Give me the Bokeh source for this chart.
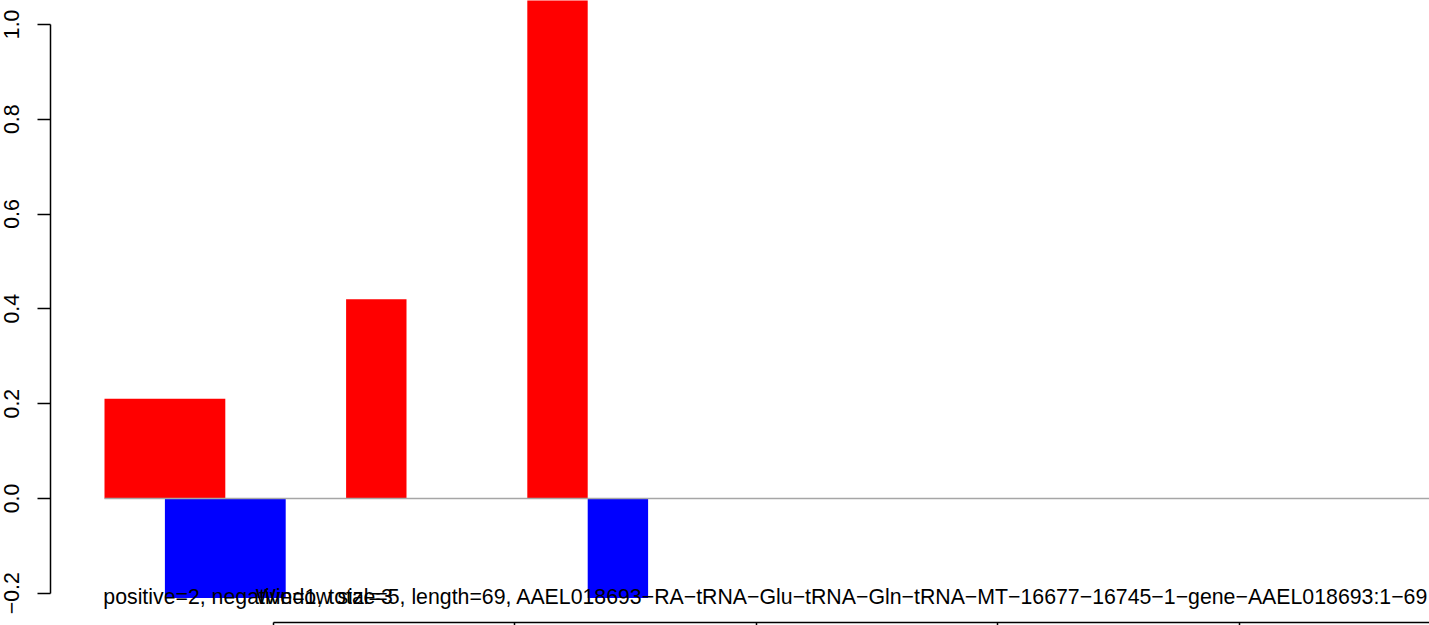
from bokeh.plotting import figure
from bokeh.models import Range1d, LinearAxis, FixedTicker, Label
from bokeh.embed import file_html
from bokeh.resources import INLINE

# ---- data ----
windows = list(range(22))
pos_vals = [0.21, 0.21, 0, 0, 0.42, 0, 0, 1.06, 0, 0, 0,
            0, 0, 0, 0, 0, 0, 0, 0, 0, 0, 0]
neg_vals = [0, -0.21, -0.21, 0, 0, 0, 0, 0, -0.21, 0, 0,
            0, 0, 0, 0, 0, 0, 0, 0, 0, 0, 0]
y_ticks = [-0.2, 0.0, 0.2, 0.4, 0.6, 0.8, 1.0]
y_tick_labels = ["\u22120.2", "0.0", "0.2", "0.4", "0.6", "0.8", "1.0"]
x_ticks = [2.79, 6.79, 10.79, 14.79, 18.79]
info_text = "positive=2, negative=1, total=3"
title_text = ("Window size=5, length=69, AAEL018693\u2212RA\u2212tRNA\u2212Glu\u2212tRNA"
              "\u2212Gln\u2212tRNA\u2212MT\u221216677\u221216745\u22121\u2212gene"
              "\u2212AAEL018693:1\u221269")

FONT = "Liberation Sans"
FS = "21.3px"


def runs(ws, vals):
    """Merge consecutive windows of equal non-zero value into single bars."""
    left, right, top = [], [], []
    i = 0
    while i < len(vals):
        if vals[i] == 0:
            i += 1
            continue
        j = i
        while j + 1 < len(vals) and vals[j + 1] == vals[i]:
            j += 1
        left.append(ws[i])
        right.append(ws[j] + 1)
        top.append(vals[i])
        i = j + 1
    return left, right, top


p = figure(width=1429, height=625, output_backend="svg", toolbar_location=None,
           x_range=Range1d(-1.7219, 21.937), y_range=Range1d(-0.2681, 1.0504),
           x_axis_type=None, y_axis_type=None, min_border=0)
p.outline_line_color = None
p.xgrid.visible = False
p.ygrid.visible = False
p.background_fill_color = "white"
p.border_fill_color = "white"

pl, pr, pt = runs(windows, pos_vals)
nl, nr, nt = runs(windows, neg_vals)
p.quad(left=pl, right=pr, top=pt, bottom=0, fill_color="#FF0000", line_color=None)
p.quad(left=nl, right=nr, top=nt, bottom=0, fill_color="#0000FF", line_color=None)
p.line(x=[windows[0], windows[-1] + 1], y=[0, 0], line_color="#A6A6A6", line_width=1.5)

# y axis
yax = LinearAxis(fixed_location=-0.9023)
yax.ticker = FixedTicker(ticks=y_ticks, minor_ticks=[])
yax.bounds = (y_ticks[0], y_ticks[-1])
yax.major_label_overrides = {t: l for t, l in zip(y_ticks, y_tick_labels)}
yax.major_label_orientation = "vertical"
yax.major_label_text_font = FONT
yax.major_label_text_font_size = FS
yax.major_label_text_color = "black"
yax.major_label_standoff = 18
yax.major_tick_out = 13
yax.major_tick_in = 0
yax.minor_tick_out = 0
yax.minor_tick_in = 0
yax.axis_line_width = 1.5
yax.major_tick_line_width = 1.5
yax.axis_line_color = "black"
yax.major_tick_line_color = "black"
p.add_layout(yax, "left")

# bottom axis
xax = LinearAxis(fixed_location=-0.2618)
xax.ticker = FixedTicker(ticks=x_ticks, minor_ticks=[])
xax.bounds = (x_ticks[0], 40)
xax.major_label_overrides = {t: "" for t in x_ticks}
xax.major_tick_out = 8
xax.major_tick_in = 0
xax.minor_tick_out = 0
xax.minor_tick_in = 0
xax.axis_line_width = 1.5
xax.major_tick_line_width = 1.5
xax.axis_line_color = "black"
xax.major_tick_line_color = "black"
p.add_layout(xax, "below")

p.add_layout(Label(x=-0.02, y=-0.209, text=info_text, text_font=FONT,
                   text_font_size=FS, text_color="black",
                   text_align="left", text_baseline="alphabetic"))
p.add_layout(Label(x=21.92, y=-0.209, text=title_text, text_font=FONT,
                   text_font_size=FS, text_color="black",
                   text_align="right", text_baseline="alphabetic"))

open("out.html", "w").write(file_html(p, INLINE))
